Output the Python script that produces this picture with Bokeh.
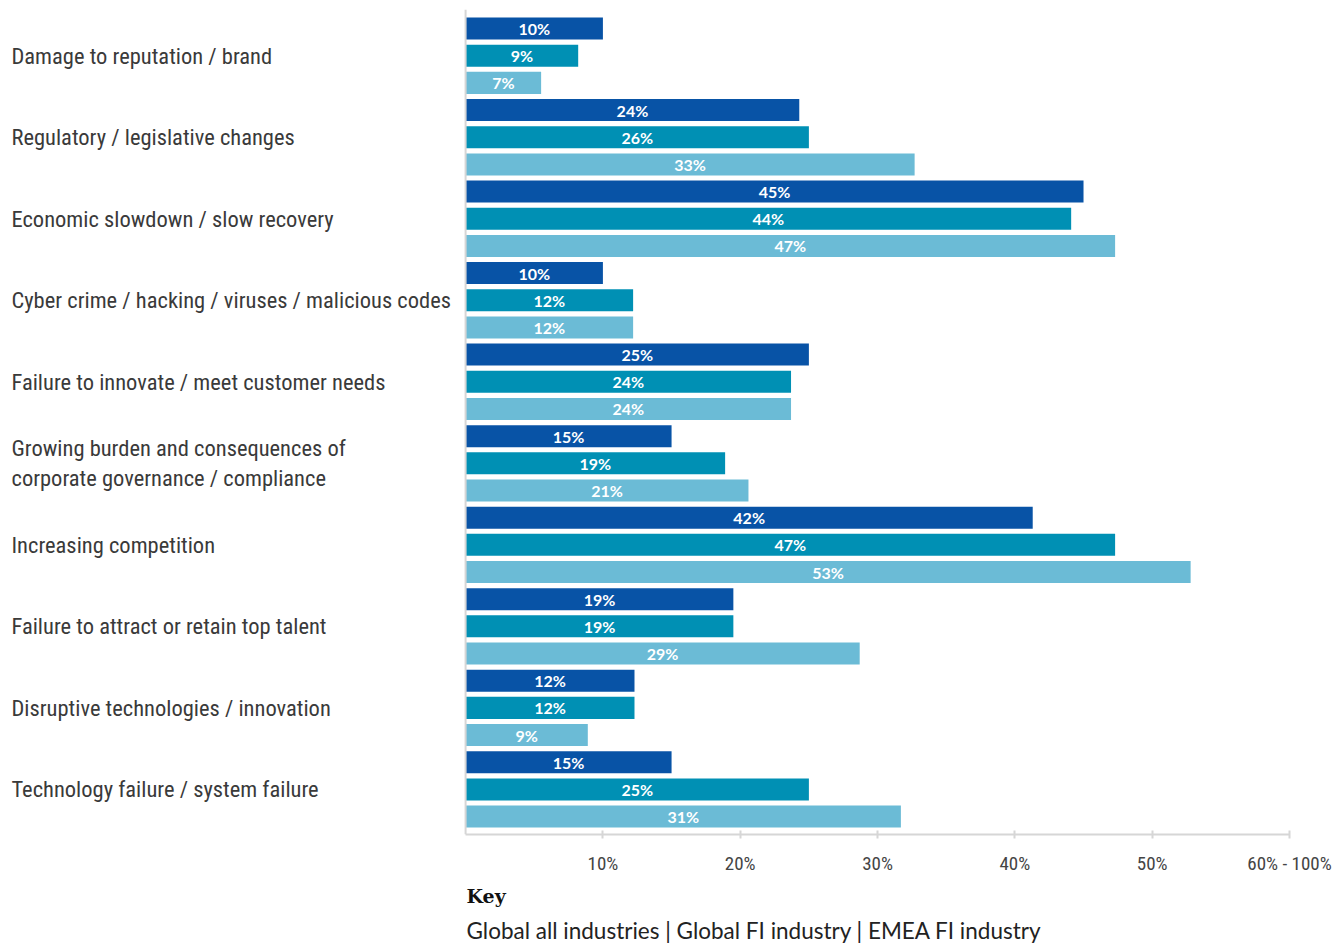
from bokeh.plotting import figure
from bokeh.models import Range1d, FixedTicker, Span, Title, ColumnDataSource
from bokeh.core.properties import value
from bokeh.embed import file_html
from bokeh.resources import INLINE

categories = [
    "Damage to reputation / brand",
    "Regulatory / legislative changes",
    "Economic slowdown / slow recovery",
    "Cyber crime / hacking / viruses / malicious codes",
    "Failure to innovate / meet customer needs",
    "Growing burden and consequences of\ncorporate governance / compliance",
    "Increasing competition",
    "Failure to attract or retain top talent",
    "Disruptive technologies / innovation",
    "Technology failure / system failure",
]
series_names = ["Global all industries", "Global FI industry", "EMEA FI industry"]
global_all = [10.0, 24.3, 45.0, 10.0, 25.0, 15.0, 41.3, 19.5, 12.3, 15.0]
global_fi = [8.2, 25.0, 44.1, 12.2, 23.7, 18.9, 47.3, 19.5, 12.3, 25.0]
emea_fi = [5.5, 32.7, 47.3, 12.2, 23.7, 20.6, 52.8, 28.7, 8.9, 31.7]
global_all_lbl = ["10%", "24%", "45%", "10%", "25%", "15%", "42%", "19%", "12%", "15%"]
global_fi_lbl = ["9%", "26%", "44%", "12%", "24%", "19%", "47%", "19%", "12%", "25%"]
emea_fi_lbl = ["7%", "33%", "47%", "12%", "24%", "21%", "53%", "29%", "9%", "31%"]
tick_values = [10, 20, 30, 40, 50, 60]
tick_labels = ["10%", "20%", "30%", "40%", "50%", "60% - 100%"]
key_title = "Key"
key_text = " | ".join(series_names)

colors = ["#0853a6", "#0090b4", "#6bbbd6"]
series_vals = [global_all, global_fi, emea_fi]
series_lbls = [global_all_lbl, global_fi_lbl, emea_fi_lbl]

n = len(categories)
p = figure(
    frame_width=1282, frame_height=825,
    x_range=Range1d(-33.36, 60), y_range=Range1d(29.66, -0.70),
    output_backend="svg", toolbar_location=None,
    min_border_left=7, min_border_right=48, min_border_top=9, min_border_bottom=0,
)
p.outline_line_color = None
p.grid.visible = False
p.yaxis.visible = False

for s in range(3):
    ys = [g * 3 + s for g in range(n)]
    src = ColumnDataSource(dict(y=ys, right=series_vals[s],
                                mid=[v / 2 for v in series_vals[s]],
                                lbl=series_lbls[s]))
    p.hbar(y="y", left=0, right="right", height=0.81, source=src,
           fill_color=colors[s], line_color=None)
    p.text(x="mid", y="y", text="lbl", source=src, text_color="white",
           text_font=value("Lato"), text_font_style="bold", text_font_size="16px",
           text_align="center", text_baseline="middle")

cat_src = ColumnDataSource(dict(x=[-33.07] * n, y=[g * 3 + 1 for g in range(n)], t=categories))
p.text(x="x", y="y", text="t", source=cat_src, text_color="#3a3a3a",
       text_font=value("Roboto Condensed"), text_font_size="22.5px",
       text_align="left", text_baseline="middle", text_line_height=1.15)

p.add_layout(Span(location=0, dimension="height", line_color="#d6d6d6", line_width=2))

ax = p.xaxis[0]
ax.bounds = (0, 60)
ax.ticker = FixedTicker(ticks=tick_values)
ax.major_label_overrides = {v: l for v, l in zip(tick_values, tick_labels)}
ax.axis_line_color = "#d6d6d6"
ax.axis_line_width = 2
ax.major_tick_line_color = "#d6d6d6"
ax.major_tick_line_width = 2
ax.major_tick_in = 4
ax.major_tick_out = 4
ax.minor_tick_line_color = None
ax.major_label_standoff = 13
ax.major_label_text_font = "Roboto Condensed"
ax.major_label_text_font_size = "19px"
ax.major_label_text_color = "#444444"

p.add_layout(Title(text=key_title, align="left", offset=459, text_font="DejaVu Serif",
                   text_font_style="bold", text_font_size="19px", text_color="#111111",
                   standoff=11), "below")
p.add_layout(Title(text=key_text, align="left", offset=459, text_font="Lato",
                   text_font_style="normal", text_font_size="22.5px", text_color="#222222",
                   standoff=4), "below")

open("out.html", "w").write(file_html(p, INLINE))
